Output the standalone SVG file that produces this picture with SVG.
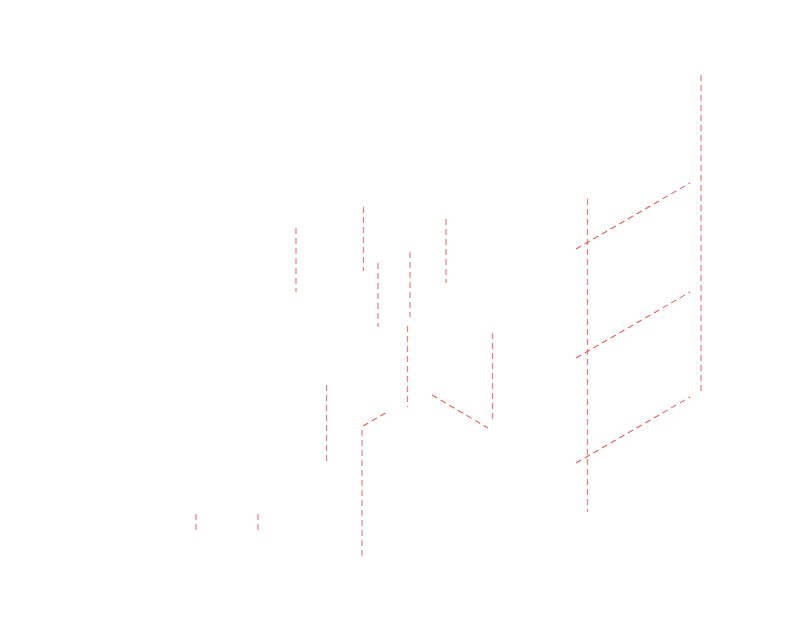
<svg xmlns="http://www.w3.org/2000/svg" width="810" height="630" viewBox="0 0 810 630">
<style>
.v{stroke:#f27a7a;stroke-width:1.2;stroke-dasharray:6 4;fill:none}
.d{stroke:#f05a5a;stroke-width:1.1;stroke-dasharray:6 4;fill:none}
</style>
<rect width="810" height="630" fill="#fff"/>
<g id="connectors">
<line class="v" x1="701" y1="75" x2="701" y2="392"/>
<line class="v" x1="587.5" y1="199" x2="587.5" y2="512"/>
<line class="d" x1="576" y1="249" x2="690" y2="183"/>
<line class="d" x1="576" y1="358" x2="690" y2="292"/>
<line class="d" x1="576" y1="463" x2="690" y2="397"/>
<line class="v" x1="296" y1="228" x2="296" y2="292"/>
<line class="v" x1="363.5" y1="207" x2="363.5" y2="271"/>
<line class="v" x1="378" y1="263" x2="378" y2="327"/>
<line class="v" x1="410" y1="252" x2="410" y2="317"/>
<line class="v" x1="446" y1="219" x2="446" y2="283"/>
<line class="v" x1="407.5" y1="326" x2="407.5" y2="407"/>
<line class="v" x1="492.5" y1="333" x2="492.5" y2="420"/>
<line class="d" x1="432" y1="395" x2="488" y2="428"/>
<line class="d" x1="363" y1="426" x2="389" y2="411"/>
<line class="v" x1="362" y1="430" x2="362" y2="557"/>
<line class="v" x1="326.5" y1="385" x2="326.5" y2="465"/>
<line class="v" x1="196" y1="514" x2="196" y2="530"/>
<line class="v" x1="258" y1="514" x2="258" y2="533"/>
</g>
</svg>
